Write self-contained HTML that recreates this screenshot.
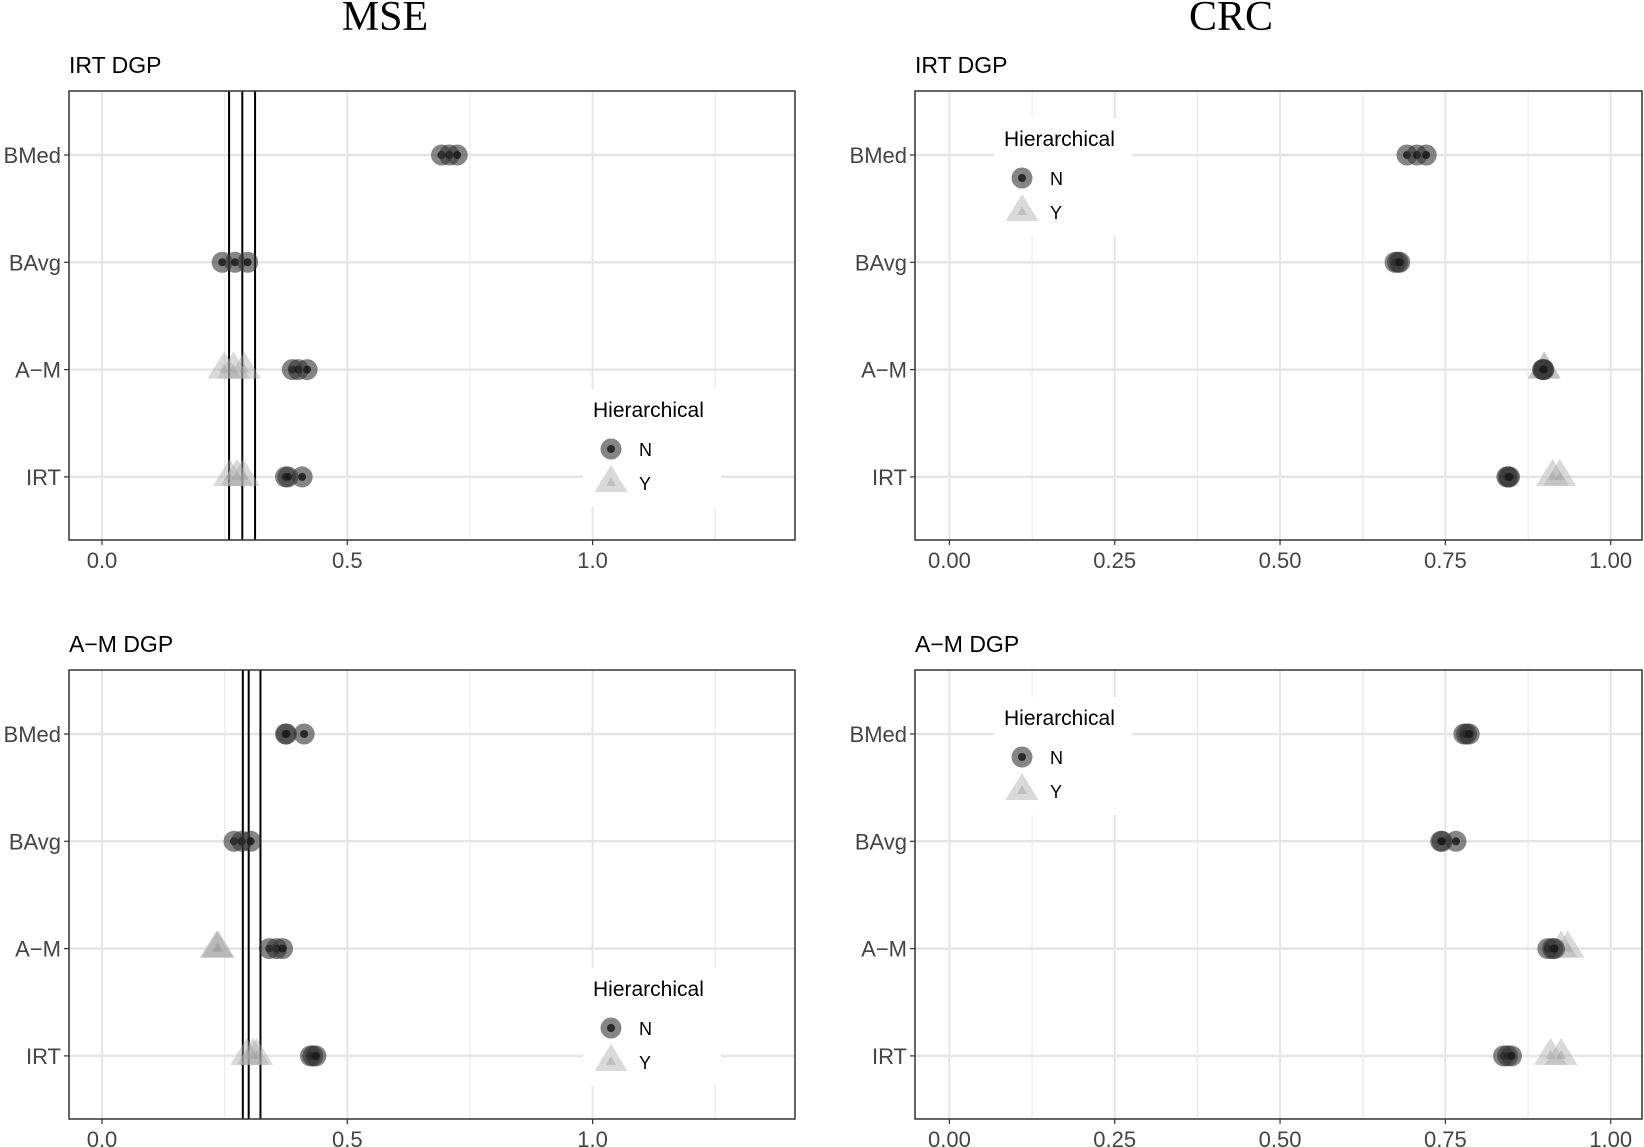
<!DOCTYPE html>
<html><head><meta charset="utf-8"><style>
html,body{margin:0;padding:0;background:#fff;}
svg{display:block;font-family:"Liberation Sans",sans-serif;}
</style></head><body>
<svg id="chart" width="1644" height="1147" viewBox="0 0 1644 1147" xmlns="http://www.w3.org/2000/svg">
<text x="385" y="30" font-family="Liberation Serif,serif" font-size="42" text-anchor="middle">MSE</text>
<text x="1231" y="30" font-family="Liberation Serif,serif" font-size="42" text-anchor="middle">CRC</text>
</svg>
<script>
const categories = ["BMed","BAvg","A\u2212M","IRT"];
// MSE, IRT DGP
const mseIrtN = [[0.692,0.708,0.724],[0.245,0.271,0.297],[0.388,0.400,0.418],[0.374,0.379,0.408]];
const mseIrtY = [[],[],[0.249,0.268,0.290],[0.260,0.275,0.288]];
const mseIrtVlines = [0.259,0.286,0.312];
// MSE, A-M DGP
const mseAmN = [[0.374,0.376,0.412],[0.269,0.285,0.303],[0.341,0.356,0.368],[0.425,0.430,0.436]];
const mseAmY = [[],[],[0.233,0.235,0.237],[0.295,0.308,0.315]];
const mseAmVlines = [0.287,0.299,0.323];
// CRC, IRT DGP
const crcIrtN = [[0.692,0.707,0.721],[0.674,0.678,0.681],[0.897,0.898,0.899],[0.843,0.845,0.847]];
const crcIrtY = [[],[],[0.899,0.900],[0.912,0.923]];
// CRC, A-M DGP
const crcAmN = [[0.778,0.782,0.786],[0.743,0.745,0.766],[0.905,0.912,0.915],[0.838,0.844,0.850]];
const crcAmY = [[],[],[0.925,0.935],[0.909,0.925]];
const mseTicks = [0,0.5,1.0];
const mseTickLabels = ["0.0","0.5","1.0"];
const mseMinor = [0.25,0.75,1.25];
const crcTicks = [0,0.25,0.5,0.75,1.0];
const crcTickLabels = ["0.00","0.25","0.50","0.75","1.00"];
const crcMinor = [0.125,0.375,0.625,0.875];

const NS="http://www.w3.org/2000/svg";
const svg=document.getElementById('chart');
function mk(tag,attrs,parent){const e=document.createElementNS(NS,tag);for(const k in attrs)e.setAttribute(k,attrs[k]);(parent||svg).appendChild(e);return e;}

function panel(o){
  const g=mk('g',{});
  
  
  const X=v=>o.x0+(v-o.d0)/(o.d1-o.d0)*(o.x1-o.x0);
  const rowY=i=>o.top+64+i*107.3;
  const t=mk('text',{x:o.left,y:o.top-18,'font-size':23,fill:'#000'},g);
  t.textContent=o.title;
  
  
  o.minor.forEach(v=>{const l=mk('line',{x1:X(v),x2:X(v),y1:o.top,y2:o.bottom,stroke:'#ebebeb','stroke-width':1.2},g);
    
    });
  o.ticks.forEach((v,i)=>{const l=mk('line',{x1:X(v),x2:X(v),y1:o.top,y2:o.bottom,stroke:'#e5e5e5','stroke-width':2},g);
    
    
    mk('line',{x1:X(v),x2:X(v),y1:o.bottom,y2:o.bottom+5,stroke:'#333','stroke-width':1.2},g);
    const tx=mk('text',{x:X(v),y:o.bottom+28,'font-size':22,fill:'#444','text-anchor':'middle'},g);
    tx.textContent=o.tickLabels[i];
    
    });
  categories.forEach((c,i)=>{const y=rowY(i);
    const l=mk('line',{x1:o.left,x2:o.right,y1:y,y2:y,stroke:'#e5e5e5','stroke-width':2.5},g);
    
    
    mk('line',{x1:o.left-5,x2:o.left,y1:y,y2:y,stroke:'#333','stroke-width':1.2},g);
    const tx=mk('text',{x:o.left-8,y:y+8,'font-size':22,fill:'#444','text-anchor':'end'},g);
    tx.textContent=c;
    
    });
  const lg=mk('g',{},g);
  
  
  mk('rect',{x:o.lx-28,y:o.ly-38,width:138,height:118,fill:'#fff'},lg);
  const lt=mk('text',{x:o.lx-18,y:o.ly-10,'font-size':21,fill:'#000'},lg);
  lt.textContent='Hierarchical';
  
  
  circ(lg,o.lx,o.ly+22);
  tri(lg,o.lx,o.ly+56);
  const ln=mk('text',{x:o.lx+28,y:o.ly+29,'font-size':18,fill:'#000'},lg);ln.textContent='N';
  
  
  const ly=mk('text',{x:o.lx+28,y:o.ly+63,'font-size':18,fill:'#000'},lg);ly.textContent='Y';
  
  
  (o.vlines||[]).forEach(v=>{const l=mk('line',{x1:X(v),x2:X(v),y1:o.top,y2:o.bottom,stroke:'#000','stroke-width':2},g);
    
    });
  o.Y.forEach((arr,i)=>arr.forEach(v=>{const e=tri(g,X(v),rowY(i));
    
    }));
  o.N.forEach((arr,i)=>arr.forEach(v=>{const e=circ(g,X(v),rowY(i));
    
    }));
  const b=mk('rect',{x:o.left,y:o.top,width:o.right-o.left,height:o.bottom-o.top,fill:'none',stroke:'#333','stroke-width':1.5},g);
  
  
}
function circ(p,x,y){const g=mk('g',{},p);
  mk('circle',{cx:x,cy:y,r:10.5,fill:'#333','fill-opacity':0.6},g);
  mk('circle',{cx:x,cy:y,r:4,fill:'#1a1a1a','fill-opacity':0.85},g);return g;}
function tri(p,x,y){const g=mk('g',{},p);const w=16.5,h=27;
  mk('polygon',{points:`${x-w},${y+h/3} ${x+w},${y+h/3} ${x},${y-2*h/3}`,fill:'#aaa','fill-opacity':0.45},g);
  mk('polygon',{points:`${x-5},${y+3} ${x+5},${y+3} ${x},${y-6}`,fill:'#999','fill-opacity':0.4},g);return g;}

panel({name:'mse-irt-panel',title:'IRT DGP',left:69,right:795,top:91,bottom:540,x0:102,x1:347.3,d0:0,d1:0.5,
  ticks:mseTicks,tickLabels:mseTickLabels,minor:mseMinor,N:mseIrtN,Y:mseIrtY,vlines:mseIrtVlines,lx:611,ly:427});
panel({name:'mse-am-panel',title:'A\u2212M DGP',left:69,right:795,top:670,bottom:1119,x0:102,x1:347.3,d0:0,d1:0.5,
  ticks:mseTicks,tickLabels:mseTickLabels,minor:mseMinor,N:mseAmN,Y:mseAmY,vlines:mseAmVlines,lx:611,ly:1006});
panel({name:'crc-irt-panel',title:'IRT DGP',left:915,right:1642,top:91,bottom:540,x0:949.4,x1:1610.7,d0:0,d1:1,
  ticks:crcTicks,tickLabels:crcTickLabels,minor:crcMinor,N:crcIrtN,Y:crcIrtY,lx:1022,ly:156});
panel({name:'crc-am-panel',title:'A\u2212M DGP',left:915,right:1642,top:670,bottom:1119,x0:949.4,x1:1610.7,d0:0,d1:1,
  ticks:crcTicks,tickLabels:crcTickLabels,minor:crcMinor,N:crcAmN,Y:crcAmY,lx:1022,ly:735});
</script>
</body></html>
